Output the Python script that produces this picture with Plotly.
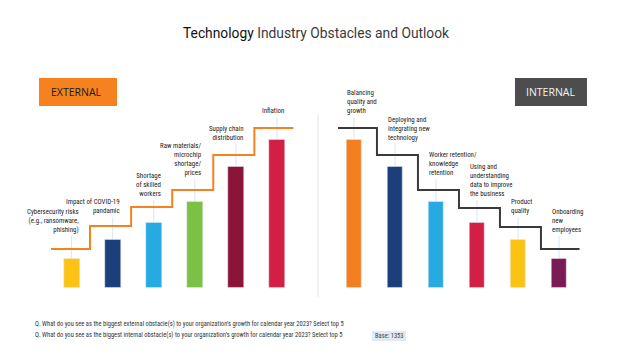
import plotly.graph_objects as go

# ---------------- data ----------------
ext_categories = [
    "Cybersecurity risks<br>(e.g., ransomware,<br>phishing)",
    "Impact of COVID-19<br>pandamic",
    "Shortage<br>of skilled<br>workers",
    "Raw materials/<br>microchip<br>shortage/<br>prices",
    "Supply chain<br>distribution",
    "Inflation",
]
ext_values = [10.8, 17.8, 24.2, 32.0, 45.0, 55.0]
ext_steps = [14.5, 23.0, 30.1, 36.4, 49.4, 59.5]
ext_colors = ["#FDC314", "#1C3F7B", "#27A9E1", "#7BC144", "#8B1538", "#D41F44"]

int_categories = [
    "Balancing<br>quality and<br>growth",
    "Deploying and<br>integrating new<br>technology",
    "Worker retention/<br>knowledge<br>retention",
    "Using and<br>understanding<br>data to improve<br>the business",
    "Product<br>quality",
    "Onboarding<br>new<br>employees",
]
int_values = [55.0, 45.0, 32.0, 24.2, 17.8, 10.8]
int_steps = [59.5, 49.4, 36.4, 29.7, 22.7, 14.5]
int_colors = ["#F47F20", "#1C3F7B", "#27A9E1", "#D41F44", "#FDC314", "#7A1A57"]

title_main = "Technology"
title_rest = " Industry Obstacles and Outlook"
question_ext = "Q. What do you see as the biggest external obstacle(s) to your organization’s growth for calendar year 2023? Select top 5"
question_int = "Q. What do you see as the biggest internal obstacle(s) to your organization’s growth for calendar year 2023? Select top 5"
base_text = "Base: 1353"

# ---------------- layout constants ----------------
OFF = 8  # page body margin
W, H = 630 - OFF, 356 - OFF
LABEL_FONT = "Roboto Condensed, Roboto, sans-serif"
YMAX = 80

fig = go.Figure()

n = len(ext_values)
xs = list(range(n))

fig.add_trace(go.Bar(x=xs, y=ext_values, marker_color=ext_colors, width=0.39,
                     xaxis="x", yaxis="y", showlegend=False, hoverinfo="skip"))
fig.add_trace(go.Bar(x=xs, y=int_values, marker_color=int_colors, width=0.39,
                     xaxis="x2", yaxis="y2", showlegend=False, hoverinfo="skip"))

# step line external (rising)
sx, sy = [-0.6], [0]
for i, s in enumerate(ext_steps):
    left = -0.6 if i == 0 else i - 0.55
    right = i + 0.45 if i < n - 1 else n - 1 + 0.4
    sx += [left, right]
    sy += [s, s]
fig.add_trace(go.Scatter(x=sx, y=sy, mode="lines", line=dict(color="#F58220", width=2),
                         xaxis="x", yaxis="y", showlegend=False, hoverinfo="skip",
                         cliponaxis=False))

# step line internal (falling)
tx, ty = [], []
for i, s in enumerate(int_steps):
    left = -0.39 if i == 0 else i - 0.44
    right = i + 0.56 if i < n - 1 else n - 1 + 0.6
    tx += [left, right]
    ty += [s, s]
tx += [n - 1 + 0.6]
ty += [-0.3]
fig.add_trace(go.Scatter(x=tx, y=ty, mode="lines", line=dict(color="#3A3A3A", width=2),
                         xaxis="x2", yaxis="y2", showlegend=False, hoverinfo="skip",
                         cliponaxis=False))

annotations = []
shapes = []
LEAD = 9.0
for i in xs:
    shapes.append(dict(type="line", xref="x", yref="y", x0=i, x1=i,
                       y0=ext_values[i] - 4, y1=ext_values[i] + LEAD - 0.5,
                       line=dict(color="rgba(205,225,242,0.8)", width=1), layer="below"))
    shapes.append(dict(type="line", xref="x2", yref="y2", x0=i, x1=i,
                       y0=int_values[i] - 4, y1=int_values[i] + LEAD - 0.5,
                       line=dict(color="rgba(205,225,242,0.8)", width=1), layer="below"))
    annotations.append(dict(xref="x", yref="y", x=i + 0.2, y=ext_values[i] + LEAD,
                            xanchor="right", yanchor="bottom", align="right",
                            text=ext_categories[i], showarrow=False, borderpad=0,
                            font=dict(family=LABEL_FONT, size=6.9, color="#222222")))
    annotations.append(dict(xref="x2", yref="y2", x=i - 0.2, y=int_values[i] + LEAD,
                            xanchor="left", yanchor="bottom", align="left",
                            text=int_categories[i], showarrow=False, borderpad=0,
                            font=dict(family=LABEL_FONT, size=6.9, color="#222222")))


def px(x):
    return (x - OFF) / W


def py(y):
    return 1 - (y - OFF) / H


shapes.append(dict(type="rect", xref="paper", yref="paper", x0=px(39), x1=px(117),
                   y0=py(106), y1=py(78), fillcolor="#F5821F", line=dict(width=0)))
shapes.append(dict(type="rect", xref="paper", yref="paper", x0=px(515), x1=px(587),
                   y0=py(106), y1=py(78), fillcolor="#4D4D4D", line=dict(width=0)))
shapes.append(dict(type="line", xref="paper", yref="paper", x0=px(318), x1=px(318),
                   y0=py(297), y1=py(115), line=dict(color="#E4E4E4", width=1)))
shapes.append(dict(type="rect", xref="paper", yref="paper", x0=px(372), x1=px(406),
                   y0=py(341), y1=py(331), fillcolor="#E1EAF4", line=dict(width=0)))

annotations.append(dict(xref="paper", yref="paper", x=px(49), y=py(92), xanchor="left",
                        yanchor="middle", text="EXTERNAL", showarrow=False,
                        font=dict(family="Open Sans, sans-serif", size=10.5, color="#1A1A1A")))
annotations.append(dict(xref="paper", yref="paper", x=px(524), y=py(92), xanchor="left",
                        yanchor="middle", text="INTERNAL", showarrow=False,
                        font=dict(family="Open Sans, sans-serif", size=10.5, color="#F2F2F2")))
annotations.append(dict(xref="paper", yref="paper", x=px(316), y=py(33), xanchor="center",
                        yanchor="middle",
                        text=f"<span style='color:#111111'>{title_main}</span><span style='color:#3A3A3A'>{title_rest}</span>",
                        showarrow=False, font=dict(family="Roboto, sans-serif", size=13.8)))
annotations.append(dict(xref="paper", yref="paper", x=px(33), y=py(324), xanchor="left",
                        yanchor="middle", text=question_ext, showarrow=False,
                        font=dict(family=LABEL_FONT, size=6.5, color="#333333")))
annotations.append(dict(xref="paper", yref="paper", x=px(33), y=py(335), xanchor="left",
                        yanchor="middle", text=question_int, showarrow=False,
                        font=dict(family=LABEL_FONT, size=6.5, color="#333333")))
annotations.append(dict(xref="paper", yref="paper", x=px(389), y=py(336), xanchor="center",
                        yanchor="middle", text=base_text, showarrow=False,
                        font=dict(family=LABEL_FONT, size=6.5, color="#444444")))

y_bottom = 288
y_top = y_bottom - YMAX * (148 / 55)
ydom = [py(y_bottom), py(y_top)]
axis_common = dict(visible=False, showgrid=False, zeroline=False, fixedrange=True)

fig.update_layout(
    width=W, height=H,
    margin=dict(l=0, r=0, t=0, b=0),
    paper_bgcolor="white", plot_bgcolor="rgba(0,0,0,0)",
    xaxis=dict(domain=[px(51), px(297.5)], range=[-0.5, 5.5], **axis_common),
    xaxis2=dict(domain=[px(333.5), px(579.5)], range=[-0.5, 5.5], **axis_common),
    yaxis=dict(domain=ydom, range=[0, YMAX], anchor="x", **axis_common),
    yaxis2=dict(domain=ydom, range=[0, YMAX], anchor="x2", **axis_common),
    annotations=annotations,
    shapes=shapes,
    showlegend=False,
    bargap=0,
)

fig.write_html("out.html", config={"displayModeBar": False})
